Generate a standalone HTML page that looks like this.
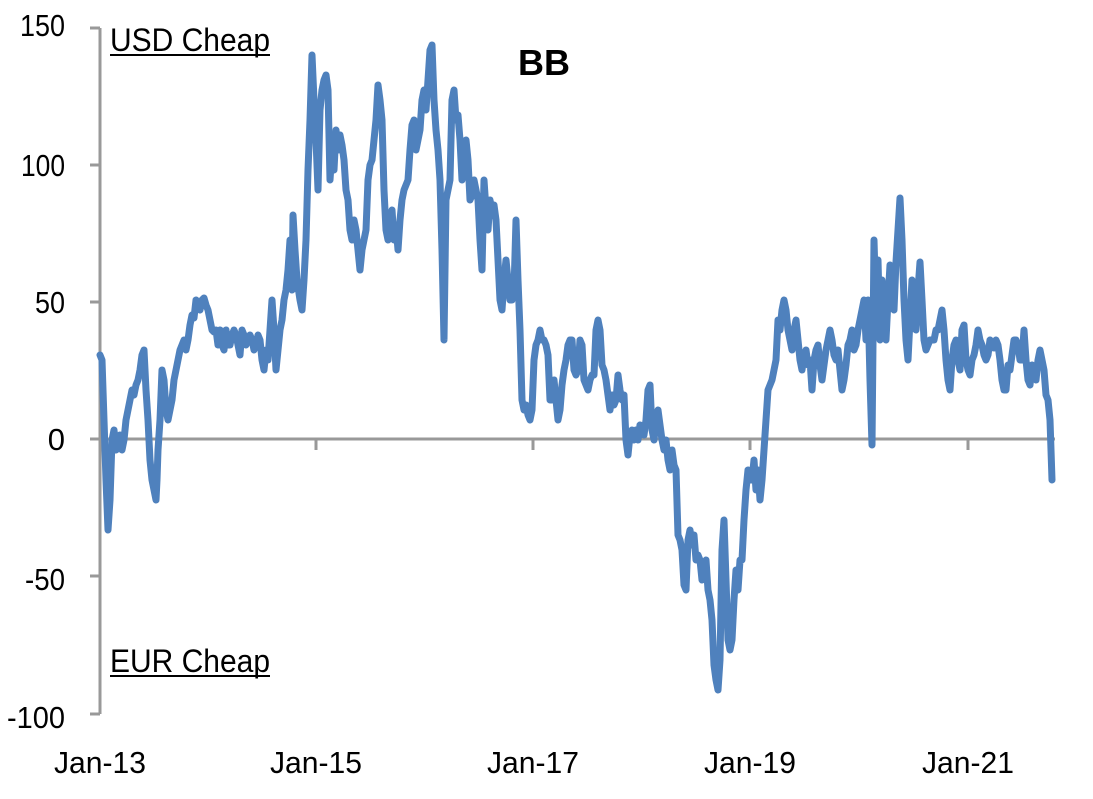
<!DOCTYPE html>
<html><head><meta charset="utf-8"><style>
body{margin:0;background:#fff;}
svg text{font-family:"Liberation Sans",Arial,sans-serif;}
</style></head><body>
<svg width="1093" height="794" viewBox="0 0 1093 794" xmlns="http://www.w3.org/2000/svg">
<rect width="1093" height="794" fill="#fff"/>
<g stroke="#999" stroke-width="3" fill="none">
<line x1="100" y1="28" x2="100" y2="714"/>
<line x1="100" y1="439" x2="1055" y2="439"/>
<line x1="90" y1="28" x2="100" y2="28"/>
<line x1="90" y1="165" x2="100" y2="165"/>
<line x1="90" y1="302" x2="100" y2="302"/>
<line x1="90" y1="439" x2="100" y2="439"/>
<line x1="90" y1="576" x2="100" y2="576"/>
<line x1="90" y1="714" x2="100" y2="714"/>
<line x1="316" y1="439" x2="316" y2="450"/>
<line x1="533" y1="439" x2="533" y2="450"/>
<line x1="750" y1="439" x2="750" y2="450"/>
<line x1="968" y1="439" x2="968" y2="450"/>
</g>
<g font-size="31" fill="#000" text-anchor="end" lengthAdjust="spacingAndGlyphs">
<text x="65" y="36" textLength="45" lengthAdjust="spacingAndGlyphs">150</text>
<text x="65" y="176" textLength="44" lengthAdjust="spacingAndGlyphs">100</text>
<text x="65" y="313" textLength="30" lengthAdjust="spacingAndGlyphs">50</text>
<text x="65" y="450">0</text>
<text x="65" y="590" textLength="40" lengthAdjust="spacingAndGlyphs">-50</text>
<text x="65" y="728" textLength="58" lengthAdjust="spacingAndGlyphs">-100</text>
</g>
<g font-size="31" fill="#000" text-anchor="middle">
<text x="100" y="773" textLength="92" lengthAdjust="spacingAndGlyphs">Jan-13</text>
<text x="316" y="773" textLength="92" lengthAdjust="spacingAndGlyphs">Jan-15</text>
<text x="533" y="773" textLength="92" lengthAdjust="spacingAndGlyphs">Jan-17</text>
<text x="750" y="773" textLength="92" lengthAdjust="spacingAndGlyphs">Jan-19</text>
<text x="968" y="773" textLength="92" lengthAdjust="spacingAndGlyphs">Jan-21</text>
</g>
<text x="110" y="51" font-size="32" textLength="160" lengthAdjust="spacingAndGlyphs">USD Cheap</text>
<rect x="110" y="54" width="160" height="2" fill="#000"/>
<text x="110" y="672" font-size="32" textLength="160" lengthAdjust="spacingAndGlyphs">EUR Cheap</text>
<rect x="110" y="675" width="160" height="2" fill="#000"/>
<text x="518" y="75" font-size="36" font-weight="bold">BB</text>
<polyline fill="none" stroke="#4f81bd" stroke-width="7" stroke-linejoin="round" stroke-linecap="round" points="
100,355 102,360 104,420 106,480 108,530 110,500 112,440 114,430 116,450 118,440 120,435 122,450 124,440 126,420 128,410 130,400 132,390 134,395 136,385 138,380 140,370 142,355 144,350 146,390 148,420 150,460 152,480 154,490 156,500 157,480 158,450 160,420 162,370 164,380 166,410 168,420 170,410 172,400 174,380 176,370 178,360 180,350 182,345 184,340 186,350 188,340 190,325 192,315 194,318 196,300 198,305 200,310 202,300 204,298 206,305 208,310 210,320 212,330 214,332 216,330 218,345 220,330 222,345 224,350 226,330 228,345 230,345 232,335 234,330 236,335 238,345 240,355 242,330 244,335 246,345 248,340 250,335 252,340 254,350 256,345 258,335 260,340 262,360 264,370 266,350 268,360 270,330 272,300 274,330 276,370 278,350 280,330 282,320 284,300 286,290 288,270 290,240 292,290 293,215 295,250 297,280 300,300 302,310 304,280 306,240 308,170 310,120 312,55 314,100 316,140 318,190 320,110 322,90 324,80 326,75 328,90 330,180 332,150 334,170 336,130 338,150 340,135 342,145 344,160 346,190 348,200 350,230 352,240 354,220 356,230 358,250 360,270 362,250 364,240 366,230 368,180 370,165 372,160 374,140 376,120 378,85 380,100 382,120 384,190 386,230 388,240 390,220 392,210 394,240 396,225 398,250 400,220 402,200 404,190 406,185 408,180 410,150 412,125 414,120 416,150 418,140 420,130 422,100 424,90 426,110 428,80 430,50 432,45 434,100 436,130 438,150 440,180 442,250 444,340 446,200 448,190 450,180 452,100 454,90 456,120 458,115 460,140 462,180 464,170 466,140 468,160 470,200 472,195 474,180 476,190 478,200 480,240 482,270 484,180 486,210 488,230 490,200 492,210 494,205 496,220 498,260 500,300 502,310 504,280 506,260 508,280 510,300 512,300 514,290 516,220 518,280 520,330 522,400 524,410 526,405 528,415 530,420 532,410 534,360 536,345 538,340 540,330 542,340 544,340 546,345 548,355 550,400 552,400 554,380 556,400 558,420 560,410 562,385 564,370 566,360 568,345 570,340 572,340 574,370 576,375 578,370 580,340 582,345 584,380 586,385 588,390 590,380 592,375 594,375 596,330 598,320 600,330 602,365 604,370 606,380 608,395 610,410 612,395 614,405 616,400 618,375 620,390 622,400 624,395 626,440 628,455 630,435 632,430 634,440 636,430 638,440 640,425 642,430 644,435 646,420 648,390 650,385 652,430 654,440 656,420 658,410 660,425 662,440 664,450 666,440 668,460 670,470 672,450 674,465 676,470 678,535 680,540 682,550 684,585 686,590 688,540 690,530 692,545 694,535 696,560 698,555 700,560 702,580 704,570 706,560 708,590 710,600 712,620 714,665 716,680 718,690 720,660 722,550 724,520 726,580 728,640 730,650 732,640 734,600 736,570 738,590 740,560 742,560 744,520 746,490 748,470 750,480 752,480 754,460 756,490 758,470 760,500 762,480 764,450 766,420 768,390 770,385 772,380 774,370 776,360 778,320 780,330 782,310 784,300 786,310 788,330 790,340 792,350 794,330 796,320 798,340 800,360 802,370 804,355 806,350 808,365 810,360 812,390 814,360 816,350 818,345 820,365 822,380 824,365 826,350 828,340 830,330 832,340 834,355 836,360 838,350 840,370 842,390 844,380 846,365 848,345 850,340 852,330 854,350 856,345 858,330 860,320 864,300 866,340 868,300 870,380 872,445 874,240 876,310 878,260 880,340 882,280 884,310 886,340 888,300 890,265 892,290 894,310 896,262 898,230 900,198 902,240 904,300 906,340 908,360 910,320 912,280 914,300 916,330 918,290 920,262 922,300 924,340 926,350 928,345 930,340 932,340 934,340 936,330 938,330 940,320 942,310 944,330 946,360 948,380 950,390 952,360 954,345 956,340 958,360 960,370 962,330 964,325 966,360 968,370 970,375 972,360 974,355 976,345 978,330 980,340 982,345 984,355 986,360 988,355 990,340 992,345 994,348 996,340 998,345 1000,360 1002,380 1004,390 1006,390 1008,365 1010,370 1012,355 1014,340 1016,340 1018,345 1020,360 1022,360 1024,330 1026,360 1028,380 1030,385 1032,365 1034,370 1036,380 1038,360 1040,350 1042,360 1044,370 1046,395 1048,400 1050,420 1052,480"/>
</svg>
</body></html>
